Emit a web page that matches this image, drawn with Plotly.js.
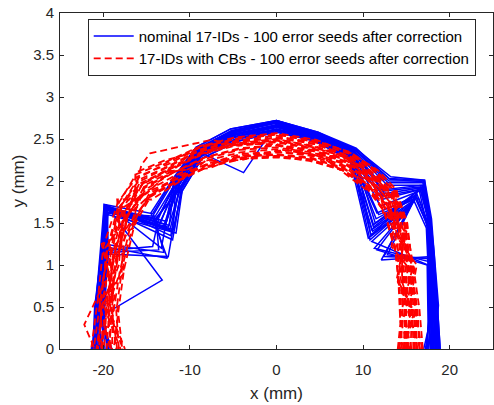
<!DOCTYPE html>
<html>
<head>
<meta charset="utf-8">
<script src="https://cdn.plot.ly/plotly-3.0.1.min.js"></script>
<style>html,body{margin:0;padding:0;background:#fff;}#chart{width:494px;height:405px;}</style>
</head>
<body>
<div id="chart"></div>
<script>
// Dynamic aperture boundaries, 17 rays from 0 deg (right) to 180 deg (left)
var blueX = [
  [18.6, 18.3, 17.9, 17.6, 16.8, 12.5, 8.9, 4.6, 0, -4.9, -9.0, -11.3, -13.5, -19.7, -19.8, -20.6, -21.0],
  [18.2, 18.0, 17.7, 17.5, 16.2, 11.2, 8.7, 4.4, 0, -5.1, -9.1, -11.6, -12.0, -19.6, -20.0, -20.5, -20.8],
  [18.0, 18.1, 17.8, 12.1, 15.8, 10.8, 8.6, 4.5, 0, -4.7, -8.8, -11.0, -14.0, -19.5, -19.7, -20.3, -21.2],
  [18.8, 18.5, 18.0, 17.7, 17.1, 13.2, 9.2, 4.7, 0, -5.3, -9.3, -11.8, -14.5, -12.6, -19.9, -20.7, -20.9],
  [17.6, 17.8, 17.6, 17.4, 16.5, 12.0, 8.8, 4.5, 0, -4.9, -8.9, -11.2, -13.0, -19.6, -13.2, -20.1, -20.6],
  [18.4, 18.2, 17.8, 17.6, 16.9, 12.8, 9.0, 4.6, 0, -3.8, -9.0, -11.4, -12.8, -19.7, -19.9, -20.4, -21.0],
  [17.2, 17.6, 17.5, 11.0, 15.5, 10.6, 8.5, 4.3, 0, -4.6, -8.6, -10.9, -11.6, -19.5, -19.5, -20.0, -20.2],
  [18.9, 18.6, 18.1, 17.8, 17.0, 13.0, 9.1, 4.8, 0, -5.2, -9.2, -11.7, -14.2, -13.0, -20.0, -20.8, -21.3],
  [17.9, 17.9, 17.7, 17.5, 16.0, 11.5, 8.7, 4.4, 0, -4.8, -8.8, -11.1, -12.3, -19.6, -19.7, -20.2, -19.5],
  [18.5, 18.3, 17.9, 12.4, 16.3, 11.4, 8.9, 4.6, 0, -5.0, -9.1, -11.5, -13.8, -19.8, -19.8, -20.6, -20.4],
  [18.1, 18.0, 17.8, 17.6, 16.6, 12.2, 8.8, 4.5, 0, -4.9, -8.9, -11.0, -12.5, -19.6, -19.6, -20.4, -19.0],
  [18.7, 18.4, 18.0, 17.7, 16.7, 10.9, 9.0, 4.7, 0, -5.2, -9.2, -11.8, -13.3, -19.7, -20.1, -20.6, -21.1],
  [17.0, 17.9, 17.6, 17.5, 16.4, 11.8, 8.7, 4.5, 0, -5.0, -8.9, -11.2, -12.2, -19.9, -20.3, -20.9, -20.0],
  [18.3, 18.7, 18.2, 17.8, 16.8, 12.6, 8.9, 4.6, 0, -4.8, -9.0, -11.5, -14.0, -19.6, -19.4, -20.2, -20.7],
  [17.4, 17.5, 17.4, 11.6, 16.0, 11.0, 8.6, 4.4, 0, -4.7, -8.7, -11.0, -12.0, -19.6, -19.6, -20.3, -21.4],
  [18.6, 18.2, 17.9, 17.7, 16.9, 12.9, 9.0, 4.7, 0, -5.1, -9.2, -11.6, -13.6, -14.3, -19.7, -20.6, -19.2],
  [18.0, 18.4, 18.1, 17.7, 16.6, 12.3, 8.8, 4.6, 0, -5.0, -9.0, -11.4, -13.1, -19.8, -19.6, -20.5, -20.3],
  [18.4, 18.1, 17.8, 12.8, 16.2, 11.2, 8.7, 4.5, 0, -4.8, -8.9, -11.3, -12.7, -19.7, -20.0, -20.7, -21.1],
  [17.8, 17.7, 17.6, 17.4, 16.1, 11.6, 8.6, 4.4, 0, -4.9, -8.8, -11.1, -13.9, -13.6, -19.6, -20.2, -20.6],
  [18.7, 18.5, 18.1, 17.8, 17.0, 13.1, 9.1, 4.7, 0, -5.2, -9.2, -11.7, -12.4, -19.8, -20.2, -20.9, -20.5],
  [17.5, 17.8, 17.6, 11.3, 15.6, 10.9, 8.6, 4.4, 0, -4.7, -8.7, -11.0, -11.8, -19.5, -19.6, -20.1, -19.8],
  [18.2, 18.3, 17.9, 17.6, 16.7, 12.4, 8.9, 4.6, 0, -5.1, -9.1, -11.5, -13.4, -19.7, -20.0, -20.5, -21.0],
  [18.9, 18.6, 18.2, 17.9, 17.1, 13.0, 9.2, 4.8, 0, -5.3, -9.3, -11.8, -14.3, -19.9, -20.1, -21.0, -21.2],
  [17.3, 17.6, 17.5, 17.3, 15.9, 11.1, 8.5, 4.3, 0, -4.6, -8.6, -10.9, -12.0, -12.5, -19.5, -19.9, -19.4]
];
var blueY = [
  [0, 0.42, 1.08, 1.50, 1.92, 1.85, 2.34, 2.55, 2.70, 2.58, 2.36, 1.98, 1.50, 1.68, 1.18, 0.45, 0],
  [0, 0.38, 1.05, 1.48, 1.85, 1.45, 2.30, 2.50, 2.65, 2.55, 2.33, 1.95, 1.40, 1.65, 1.15, 0.40, 0],
  [0, 0.45, 1.10, 1.06, 1.75, 1.30, 2.28, 2.52, 2.62, 2.50, 2.30, 1.92, 1.55, 1.62, 1.20, 0.35, 0],
  [0, 0.50, 1.12, 1.52, 2.01, 2.05, 2.38, 2.57, 2.72, 2.62, 2.40, 2.05, 1.62, 1.08, 1.22, 0.42, 0],
  [0, 0.35, 1.02, 1.45, 1.88, 1.70, 2.32, 2.53, 2.66, 2.56, 2.34, 1.96, 1.45, 1.70, 0.82, 0.40, 0],
  [0, 0.44, 1.08, 1.50, 1.95, 1.95, 2.35, 2.55, 2.68, 2.10, 2.35, 1.99, 1.48, 1.70, 1.20, 0.45, 0],
  [0, 0.30, 1.00, 1.28, 1.70, 1.32, 2.25, 2.48, 2.58, 2.47, 2.27, 1.88, 1.38, 1.60, 1.15, 0.38, 0],
  [0, 0.48, 1.12, 1.55, 2.00, 2.00, 2.37, 2.58, 2.72, 2.60, 2.38, 2.03, 1.60, 1.15, 1.25, 0.50, 0],
  [0, 0.40, 1.06, 1.46, 1.80, 1.55, 2.30, 2.51, 2.64, 2.52, 2.31, 1.93, 1.42, 1.66, 1.18, 0.42, 0],
  [0, 0.42, 1.08, 1.10, 1.88, 1.50, 2.34, 2.55, 2.69, 2.57, 2.36, 1.98, 1.55, 1.69, 1.19, 0.44, 0],
  [0, 0.37, 1.06, 1.49, 1.90, 1.78, 2.32, 2.53, 2.66, 2.54, 2.32, 1.94, 1.45, 1.66, 1.17, 0.40, 0],
  [0, 0.46, 1.10, 1.52, 1.93, 1.35, 2.36, 2.56, 2.70, 2.60, 2.38, 2.02, 1.20, 1.72, 1.20, 0.48, 0],
  [0, 0.40, 1.04, 1.50, 1.80, 1.60, 2.31, 2.54, 2.64, 2.55, 2.34, 1.96, 1.35, 1.72, 1.22, 0.50, 0],
  [0, 0.52, 1.15, 1.54, 1.95, 1.90, 2.35, 2.55, 2.67, 2.55, 2.35, 2.00, 1.58, 1.62, 1.12, 0.35, 0],
  [0, 0.33, 1.00, 1.18, 1.78, 1.42, 2.28, 2.50, 2.61, 2.50, 2.30, 1.90, 1.30, 1.66, 1.16, 0.40, 0],
  [0, 0.44, 1.10, 1.52, 1.98, 1.98, 2.37, 2.56, 2.70, 2.59, 2.37, 2.01, 1.56, 1.22, 1.17, 0.45, 0],
  [0, 0.47, 1.12, 1.50, 1.90, 1.82, 2.33, 2.54, 2.67, 2.56, 2.35, 1.97, 1.44, 1.70, 1.19, 0.44, 0],
  [0, 0.41, 1.07, 1.12, 1.84, 1.48, 2.31, 2.52, 2.65, 2.53, 2.33, 1.95, 1.52, 1.67, 1.21, 0.46, 0],
  [0, 0.36, 1.02, 1.47, 1.82, 1.62, 2.29, 2.51, 2.62, 2.52, 2.31, 1.93, 1.55, 1.18, 1.15, 0.38, 0],
  [0, 0.49, 1.13, 1.53, 1.99, 2.02, 2.37, 2.57, 2.71, 2.59, 2.38, 2.02, 1.47, 1.71, 1.23, 0.49, 0],
  [0, 0.38, 1.04, 1.20, 1.72, 1.36, 2.27, 2.49, 2.60, 2.49, 2.29, 1.90, 1.42, 1.63, 1.14, 0.36, 0],
  [0, 0.43, 1.09, 1.51, 1.93, 1.88, 2.35, 2.55, 2.69, 2.58, 2.37, 2.00, 1.50, 1.69, 1.20, 0.45, 0],
  [0, 0.51, 1.14, 1.55, 2.01, 2.03, 2.39, 2.58, 2.72, 2.62, 2.40, 2.04, 1.61, 1.72, 1.24, 0.50, 0],
  [0, 0.33, 1.00, 1.44, 1.76, 1.40, 2.26, 2.48, 2.59, 2.47, 2.27, 1.88, 1.40, 1.10, 1.13, 0.36, 0]
];
var redX = [
  [15.0, 15.3, 15.0, 14.4, 13.0, 11.0, 8.0, 4.1, 0, -4.3, -8.3, -12.0, -15.2, -17.2, -18.5, -19.3, -19.6],
  [14.2, 14.6, 14.4, 13.9, 12.6, 10.6, 7.7, 3.9, 0, -4.1, -8.0, -11.6, -14.7, -16.5, -17.8, -18.5, -18.2],
  [16.5, 16.3, 15.6, 14.8, 13.5, 11.4, 8.4, 4.4, 0, -4.6, -8.7, -12.4, -15.8, -18.0, -19.6, -20.2, -20.5],
  [15.5, 15.6, 15.2, 14.5, 13.2, 11.2, 8.2, 4.2, 0, -4.4, -7.5, -14.6, -15.6, -17.0, -18.6, -22.2, -21.0],
  [14.8, 15.0, 14.8, 14.2, 12.9, 10.8, 7.9, 4.0, 0, -4.2, -8.2, -11.8, -15.0, -17.6, -19.0, -19.4, -17.5],
  [16.0, 15.9, 15.4, 14.6, 13.3, 11.3, 8.3, 4.3, 0, -4.5, -8.5, -12.2, -15.4, -17.5, -18.7, -19.6, -19.9],
  [14.5, 14.4, 14.2, 13.6, 12.4, 10.5, 7.6, 3.8, 0, -4.0, -7.9, -11.5, -14.5, -16.4, -17.6, -18.3, -18.8],
  [16.9, 16.5, 15.8, 15.0, 13.7, 11.5, 8.5, 4.5, 0, -4.7, -8.8, -12.5, -16.1, -18.3, -20.0, -20.6, -21.4],
  [15.2, 14.9, 14.6, 14.1, 12.8, 10.9, 8.0, 4.1, 0, -4.3, -8.4, -12.1, -15.1, -17.3, -18.4, -19.2, -18.5],
  [15.8, 15.7, 15.3, 14.7, 13.4, 11.1, 8.1, 4.2, 0, -4.4, -8.5, -12.3, -15.5, -17.4, -18.8, -19.5, -20.2],
  [14.0, 14.3, 14.1, 13.7, 12.5, 10.7, 7.8, 3.9, 0, -4.1, -8.1, -11.7, -14.8, -16.9, -18.1, -18.9, -19.0],
  [16.2, 16.1, 15.5, 14.9, 13.6, 11.6, 8.6, 4.5, 0, -4.8, -8.9, -12.6, -15.9, -17.9, -19.1, -19.9, -20.8],
  [14.6, 16.0, 13.9, 15.0, 12.3, 11.8, 8.7, 4.0, 0, -4.5, -8.6, -12.8, -16.3, -16.3, -20.2, -18.3, -17.8],
  [15.4, 14.2, 15.6, 13.3, 13.9, 10.3, 7.5, 4.3, 0, -4.0, -8.2, -11.4, -14.4, -18.4, -17.6, -20.4, -20.0],
  [16.6, 15.2, 16.2, 14.0, 13.0, 11.0, 8.2, 4.6, 0, -4.6, -9.0, -12.0, -15.2, -17.0, -19.8, -19.0, -19.3],
  [14.3, 15.8, 14.5, 14.5, 12.7, 10.9, 7.9, 4.1, 0, -4.2, -7.8, -12.2, -14.9, -17.7, -18.2, -20.0, -18.0],
  [15.6, 14.7, 15.9, 14.2, 13.5, 11.3, 8.3, 4.3, 0, -4.4, -8.5, -12.2, -15.6, -18.1, -19.4, -20.5, -19.2],
  [14.9, 15.5, 14.0, 14.8, 12.8, 10.7, 7.8, 4.0, 0, -4.2, -8.1, -11.8, -14.6, -16.8, -19.2, -18.8, -20.7],
  [16.3, 15.4, 15.9, 14.4, 13.4, 11.4, 8.4, 4.4, 0, -4.6, -8.7, -12.4, -15.7, -17.5, -18.4, -19.9, -17.7],
  [14.7, 14.8, 14.7, 14.3, 12.6, 10.6, 7.7, 3.9, 0, -4.1, -8.0, -11.6, -14.9, -17.8, -18.9, -19.6, -20.3],
  [16.8, 16.0, 15.7, 15.1, 13.8, 11.7, 8.6, 4.6, 0, -4.8, -8.9, -12.7, -16.2, -18.2, -19.5, -20.3, -21.1],
  [15.1, 15.4, 14.9, 13.8, 13.1, 11.0, 8.1, 4.2, 0, -4.3, -8.3, -12.0, -15.3, -16.7, -18.6, -19.0, -18.4],
  [14.1, 14.5, 14.6, 13.5, 12.4, 10.4, 7.6, 3.8, 0, -4.0, -7.9, -11.5, -14.6, -17.3, -17.9, -19.5, -19.1],
  [15.9, 16.2, 15.1, 14.9, 13.3, 11.2, 8.3, 4.3, 0, -4.5, -8.6, -12.3, -15.4, -17.9, -19.0, -20.1, -20.6]
];
var redY = [
  [0, 0.40, 0.85, 1.35, 1.75, 2.02, 2.22, 2.36, 2.42, 2.38, 2.28, 2.10, 1.92, 1.58, 1.05, 0.50, 0],
  [0, 0.35, 0.80, 1.28, 1.68, 1.96, 2.16, 2.28, 2.32, 2.30, 2.20, 2.02, 1.85, 1.50, 0.98, 0.45, 0],
  [0, 0.45, 0.95, 1.45, 1.85, 2.08, 2.30, 2.44, 2.54, 2.48, 2.38, 2.18, 2.02, 1.70, 1.18, 0.60, 0],
  [0, 0.42, 0.88, 1.38, 1.78, 2.04, 2.26, 2.38, 2.46, 2.42, 2.49, 2.33, 2.19, 1.62, 1.08, 0.29, 0],
  [0, 0.38, 0.82, 1.32, 1.72, 1.99, 2.20, 2.32, 2.38, 2.34, 2.24, 2.06, 1.88, 1.55, 1.02, 0.48, 0],
  [0, 0.43, 0.92, 1.42, 1.82, 2.06, 2.27, 2.41, 2.50, 2.45, 2.34, 2.15, 1.98, 1.64, 1.12, 0.55, 0],
  [0, 0.33, 0.78, 1.25, 1.65, 1.94, 2.14, 2.26, 2.30, 2.28, 2.18, 2.00, 1.82, 1.48, 0.95, 0.42, 0],
  [0, 0.48, 0.98, 1.48, 1.88, 2.10, 2.32, 2.46, 2.56, 2.50, 2.40, 2.20, 2.05, 1.75, 1.22, 0.62, 0],
  [0, 0.37, 0.84, 1.30, 1.70, 2.00, 2.21, 2.34, 2.40, 2.37, 2.26, 2.09, 1.90, 1.57, 1.03, 0.52, 0],
  [0, 0.46, 0.90, 1.40, 1.80, 2.03, 2.24, 2.39, 2.47, 2.43, 2.32, 2.13, 1.96, 1.61, 1.10, 0.54, 0],
  [0, 0.30, 0.76, 1.22, 1.62, 1.92, 2.12, 2.25, 2.28, 2.26, 2.16, 1.98, 1.80, 1.45, 0.92, 0.40, 0],
  [0, 0.50, 0.96, 1.46, 1.86, 2.12, 2.34, 2.48, 2.55, 2.50, 2.40, 2.22, 2.04, 1.72, 1.20, 0.62, 0],
  [0, 0.42, 0.84, 1.40, 1.62, 2.10, 2.30, 2.30, 2.44, 2.44, 2.36, 2.25, 2.10, 1.45, 1.25, 0.45, 0],
  [0, 0.36, 0.92, 1.22, 1.88, 1.90, 2.12, 2.36, 2.36, 2.25, 2.24, 1.98, 1.78, 1.78, 0.90, 0.58, 0],
  [0, 0.44, 1.00, 1.32, 1.76, 2.00, 2.26, 2.46, 2.52, 2.46, 2.42, 2.12, 1.95, 1.60, 1.20, 0.50, 0],
  [0, 0.40, 0.80, 1.36, 1.70, 1.98, 2.18, 2.32, 2.34, 2.30, 2.15, 2.12, 1.86, 1.66, 1.00, 0.52, 0],
  [0, 0.38, 0.94, 1.34, 1.82, 2.05, 2.27, 2.40, 2.48, 2.44, 2.33, 2.15, 1.98, 1.70, 1.15, 0.58, 0],
  [0, 0.44, 0.80, 1.40, 1.70, 1.95, 2.17, 2.30, 2.35, 2.32, 2.20, 2.04, 1.82, 1.52, 1.14, 0.46, 0],
  [0, 0.41, 0.96, 1.38, 1.84, 2.07, 2.29, 2.44, 2.51, 2.47, 2.37, 2.17, 2.00, 1.62, 1.06, 0.56, 0],
  [0, 0.34, 0.82, 1.32, 1.66, 1.95, 2.15, 2.27, 2.31, 2.29, 2.19, 2.02, 1.87, 1.68, 1.10, 0.52, 0],
  [0, 0.47, 0.97, 1.50, 1.90, 2.13, 2.33, 2.49, 2.57, 2.52, 2.41, 2.23, 2.08, 1.74, 1.21, 0.60, 0],
  [0, 0.40, 0.86, 1.26, 1.76, 2.01, 2.23, 2.37, 2.43, 2.39, 2.28, 2.10, 1.93, 1.52, 1.06, 0.47, 0],
  [0, 0.32, 0.84, 1.24, 1.64, 1.92, 2.13, 2.24, 2.29, 2.27, 2.17, 2.00, 1.83, 1.58, 0.96, 0.50, 0],
  [0, 0.46, 0.90, 1.46, 1.80, 2.05, 2.28, 2.42, 2.49, 2.45, 2.35, 2.16, 1.97, 1.68, 1.16, 0.57, 0]
];
var seriesNames = ["nominal 17-IDs - 100 error seeds after correction",
                   "17-IDs with CBs - 100 error seeds after correction"];
var xTicks = [-20, -10, 0, 10, 20];
var yTicks = [0, 0.5, 1, 1.5, 2, 2.5, 3, 3.5, 4];
var yTickText = ["0", "0.5", "1", "1.5", "2", "2.5", "3", "3.5", "4"];

var traces = [];
blueX.forEach(function (xs, i) {
  traces.push({
    x: xs, y: blueY[i], type: "scatter", mode: "lines",
    name: seriesNames[0], legendgroup: "blue", showlegend: i === 0,
    line: {color: "#0000ff", width: 1.5}
  });
});
redX.forEach(function (xs, i) {
  traces.push({
    x: xs, y: redY[i], type: "scatter", mode: "lines",
    name: seriesNames[1], legendgroup: "red", showlegend: i === 0,
    line: {color: "#ff0000", width: 1.8, dash: "7px,4px"}
  });
});

var FONT = "Liberation Sans, Arial, sans-serif";
var axisCommon = {
  showline: true, linecolor: "#262626", linewidth: 1, mirror: "ticks",
  ticks: "inside", ticklen: 4, tickcolor: "#262626", tickwidth: 1,
  showgrid: false, zeroline: false,
  tickfont: {family: FONT, size: 15, color: "#262626"}
};
var layout = {
  width: 494, height: 405,
  margin: {l: 60, r: 1, t: 13, b: 56},
  paper_bgcolor: "#ffffff", plot_bgcolor: "#ffffff",
  font: {family: FONT, size: 15, color: "#262626"},
  xaxis: Object.assign({}, axisCommon, {
    range: [-25, 25], tickvals: xTicks, ticktext: xTicks.map(String),
    ticklabelstandoff: 7,
    title: {text: "x (mm)", font: {family: FONT, size: 17, color: "#262626"}, standoff: 10}
  }),
  yaxis: Object.assign({}, axisCommon, {
    range: [0, 4], tickvals: yTicks, ticktext: yTickText,
    ticklabelstandoff: 2,
    title: {text: "y (mm)", font: {family: FONT, size: 17, color: "#262626"}, standoff: 4}
  }),
  showlegend: true,
  legend: {
    x: 0.064, y: 0.983, xanchor: "left", yanchor: "top",
    bgcolor: "#ffffff", bordercolor: "#262626", borderwidth: 1,
    font: {family: FONT, size: 15, color: "#000000"}, itemwidth: 40, tracegroupgap: 0,
    traceorder: "normal"
  }
};
Plotly.newPlot("chart", traces, layout, {displayModeBar: false, staticPlot: true});
</script>
</body>
</html>
